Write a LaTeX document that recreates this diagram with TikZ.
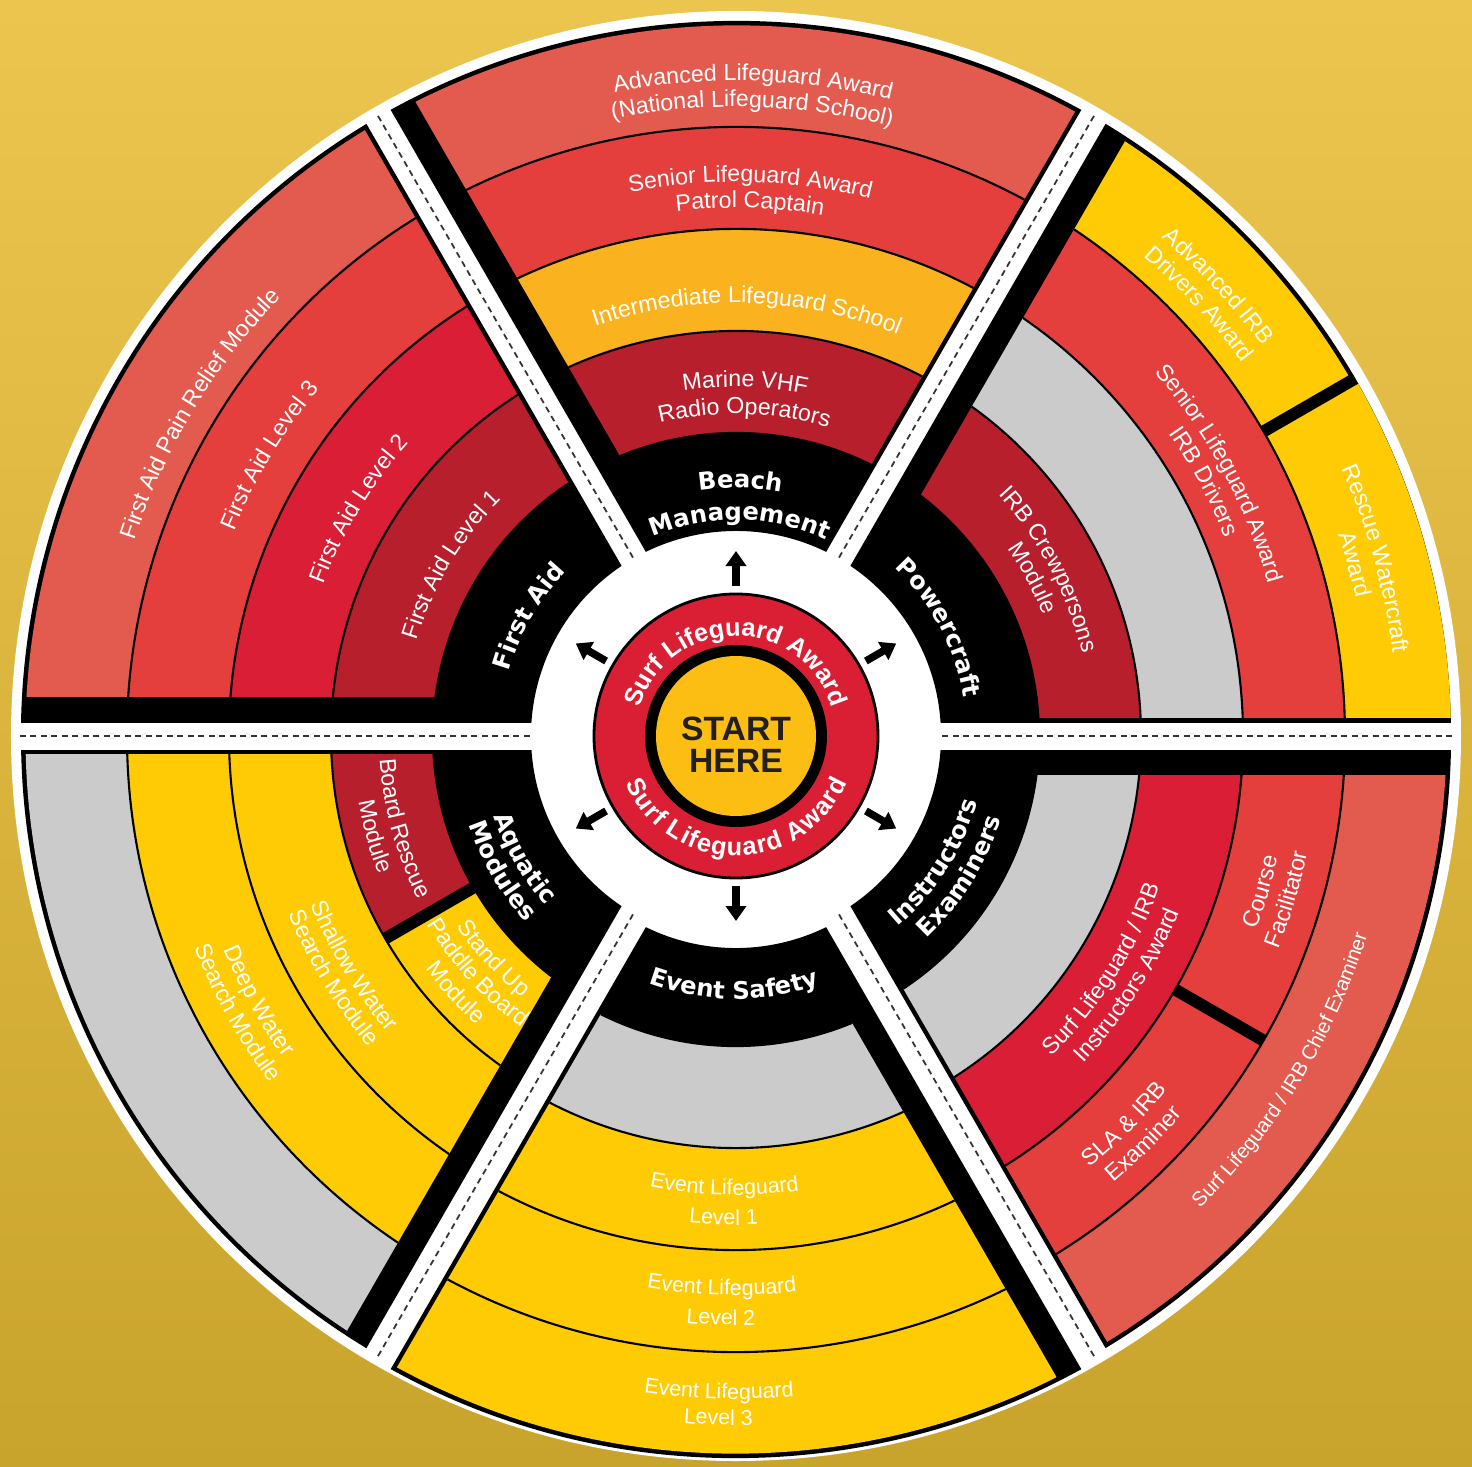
\documentclass[tikz,border=0pt]{standalone}
\usepackage{fontspec}
\setmainfont{Liberation Sans}
\newfontfamily\heavyfont{DejaVu Sans}
\usetikzlibrary{arrows.meta,decorations.text}

\definecolor{bgtop}{HTML}{ECC54F}
\definecolor{bgbot}{HTML}{C9A42C}
\definecolor{redA}{HTML}{B81F2D}
\definecolor{redB}{HTML}{D91E36}
\definecolor{redC}{HTML}{E43E3D}
\definecolor{redD}{HTML}{E35B4F}
\definecolor{orangeR}{HTML}{FBB21F}
\definecolor{yellowR}{HTML}{FFCB05}
\definecolor{greyR}{HTML}{CBCBCB}
\definecolor{hubred}{HTML}{DA1F35}
\definecolor{hubyellow}{HTML}{FDBE14}
\definecolor{darktext}{HTML}{231F20}

\newcommand{\ringfont}{\fontsize{6.6}{7}\selectfont}
\newcommand{\smallring}{\fontsize{6.1}{7}\selectfont}
\newcommand{\tinyring}{\fontsize{5.8}{7}\selectfont}
\newcommand{\catfont}{\heavyfont\bfseries\fontsize{6.9}{8}\selectfont}
\newcommand{\hubfont}{\bfseries\fontsize{7.2}{8}\selectfont}
\newcommand{\hubwide}{\bfseries\fontsize{7.2}{8}\selectfont\kern0.35pt}

\def\gapw{0.14}
\def\barw{0.255}
\def\rimw{0.045}

% texte sur un arc, sens horaire (moitie haute)
\newcommand{\cwlabel}[4][\ringfont]{%
  \path[decorate,decoration={text along path,text align=center,text color=white,text={|#1|#4}}]
    (#3+80:#2) arc[start angle=#3+80,end angle=#3-80,radius=#2];}
% texte sur un arc, sens antihoraire (moitie basse)
\newcommand{\ccwlabel}[4][\ringfont]{%
  \path[decorate,decoration={text along path,text align=center,text color=white,text={|#1|#4}}]
    (#3-80:#2) arc[start angle=#3-80,end angle=#3+80,radius=#2];}

\begin{document}
\begin{tikzpicture}[
    ringline/.style = {line width=0.6pt},
    sepline/.style = {dash pattern=on 0.6mm off 0.45mm, line width=0.5pt, black!80},
    divider/.style = {line width=1.2mm},
    hubarrow/.style = {line width=0.75mm, -{Triangle[width=2mm,length=1.5mm]}},
    starttext/.style = {align=center, text=darktext, inner sep=0pt,
                        font=\bfseries\fontsize{9.6}{9.1}\selectfont}
  ]
  \useasboundingbox (-7.36,-7.30) rectangle (7.36,7.36);
  \shade[top color=bgtop, bottom color=bgbot] (-7.36,-7.30) rectangle (7.36,7.36);
  \fill[white] (0,0) circle (7.25);

  % Secteurs : angle / decalage / anneaux 1..4 / anneau coupe / couleur 0-30
  \foreach \ang/\sh/\ca/\cb/\cc/\cd/\ri/\ro/\csp in {
      0/0/redA/greyR/redC/yellowR/6.09/7.15/yellowR,
      60/0/redA/orangeR/redC/redD/0/0/redD,
      120/0/redA/redB/redC/redD/0/0/redD,
      180/0/yellowR/yellowR/yellowR/greyR/3.03/4.05/redA,
      240/0.07/greyR/yellowR/yellowR/yellowR/0/0/greyR,
      300/0/greyR/redB/redC/redD/5.07/6.09/redC}{
    \begin{scope}[shift={(\ang+30:\sh)}, rotate=\ang]
      \clip (-8,\gapw) -- (8,\gapw) -- (8,8) -- (-8,8) -- cycle;
      \clip[rotate=60] (-8,-8) -- (8,-8) -- (8,-\gapw) -- (-8,-\gapw) -- cycle;
      \fill[black, even odd rule] (0,0) circle (7.15) (0,0) circle (2.05);
      \clip (-8,\gapw+\rimw) -- (8,\gapw+\rimw) -- (8,8) -- (-8,8) -- cycle;
      \clip[rotate=60] (-8,-8) -- (8,-8) -- (8,-\gapw-\barw) -- (-8,-\gapw-\barw) -- cycle;
      \fill[fill=\ca, even odd rule] (0,0) circle (4.05) (0,0) circle (3.03);
      \fill[fill=\cb, even odd rule] (0,0) circle (5.07) (0,0) circle (4.05);
      \fill[fill=\cc, even odd rule] (0,0) circle (6.09) (0,0) circle (5.07);
      \fill[fill=\cd, even odd rule] (0,0) circle (7.105) (0,0) circle (6.09);
      \ifdim\ro pt>0pt
        \fill[fill=\csp] (-5:\ri) arc[start angle=-5,end angle=30,radius=\ri]
          -- (30:\ro) arc[start angle=30,end angle=-5,radius=\ro] -- cycle;
      \fi
      \foreach \rad in {3.03,4.05,5.07,6.09}
        \draw[ringline] (0,0) circle (\rad);
      \ifdim\ro pt>0pt
        \draw[divider] (30:\ri) -- (30:\ro);
      \fi
    \end{scope}
  }

  % Separations pointillees
  \foreach \ang in {0,60,...,300}
    \draw[sepline] (\ang:2.06) -- (\ang:7.2);

  % Centre
  \filldraw[fill=hubred, line width=0.8pt] (0,0) circle (1.42);
  \fill[black] (0,0) circle (0.91);
  \fill[hubyellow] (0,0) circle (0.80);
  \node[starttext] (start) at (0,-0.09) {START\\HERE};
  \cwlabel[\hubfont]{1.00}{90}{Surf Lifeguard Award}
  \ccwlabel[\hubwide]{1.20}{270}{Surf Lifeguard Award}
  \foreach \ang in {30,90,...,330}{
    \coordinate (tail\ang) at (\ang:1.50);
    \coordinate (tip\ang) at (\ang:1.85);
    \draw[hubarrow] (tail\ang) -- (tip\ang);
  }

  % Beach Management
  \cwlabel[\catfont]{2.48}{89}{Beach}
  \cwlabel[\catfont]{2.16}{89}{Management}
  \cwlabel{3.49}{88.5}{Marine VHF}
  \cwlabel{3.22}{88.5}{Radio Operators}
  \cwlabel{4.33}{88.5}{Intermediate Lifeguard School}
  \cwlabel{5.54}{88.5}{Senior Lifeguard Award}
  \cwlabel{5.28}{88.5}{Patrol Captain}
  \cwlabel{6.55}{88.5}{Advanced Lifeguard Award}
  \cwlabel{6.29}{88.5}{(National Lifeguard School)}

  % First Aid
  \cwlabel[\catfont]{2.36}{150}{First Aid}
  \cwlabel{3.33}{149}{First Aid Level 1}
  \cwlabel{4.39}{149}{First Aid Level 2}
  \cwlabel{5.42}{149}{First Aid Level 3}
  \cwlabel{6.32}{149}{First Aid Pain Relief Module}

  % Powercraft
  \cwlabel[\catfont]{2.31}{28}{Powercraft}
  \cwlabel{3.56}{28}{IRB Crewpersons}
  \cwlabel{3.30}{28}{Module}
  \cwlabel{5.54}{28.5}{Senior Lifeguard Award}
  \cwlabel{5.28}{28.5}{IRB Drivers}
  \cwlabel{6.55}{43}{Advanced IRB}
  \cwlabel{6.29}{43}{Drivers Award}
  \cwlabel{6.62}{15.5}{Rescue Watercraft}
  \cwlabel{6.35}{15.5}{Award}

  % Instructors Examiners
  \ccwlabel[\catfont]{2.50}{327.5}{Instructors}
  \ccwlabel[\catfont]{2.78}{328}{Examiners}
  \ccwlabel{4.50}{327.5}{Surf Lifeguard / IRB}
  \ccwlabel{4.77}{327.5}{Instructors Award}
  \ccwlabel{5.55}{343.5}{Course}
  \ccwlabel{5.83}{343.5}{Facilitator}
  \ccwlabel{5.58}{315}{SLA {\&} IRB}
  \ccwlabel{5.85}{315}{Examiner}
  \ccwlabel[\tinyring]{6.62}{328.5}{Surf Lifeguard / IRB Chief Examiner}

  % Event Safety
  \begin{scope}[shift={(270:0.07)}]
    \ccwlabel[\catfont]{2.56}{269.5}{Event Safety}
    \ccwlabel[\smallring]{4.52}{268.5}{Event Lifeguard}
    \ccwlabel[\smallring]{4.82}{268.5}{Level 1}
    \ccwlabel[\smallring]{5.52}{268.5}{Event Lifeguard}
    \ccwlabel[\smallring]{5.82}{268.5}{Level 2}
    \ccwlabel[\smallring]{6.56}{268.5}{Event Lifeguard}
    \ccwlabel[\smallring]{6.82}{268.5}{Level 3}
  \end{scope}

  % Aquatic Modules
  \ccwlabel[\catfont]{2.55}{210}{Aquatic}
  \ccwlabel[\catfont]{2.81}{210}{Modules}
  \ccwlabel{3.57}{195.5}{Board Rescue}
  \ccwlabel{3.83}{195.5}{Module}
  \ccwlabel{3.38}{222.5}{Stand Up}
  \ccwlabel{3.62}{222.5}{Paddle Board}
  \ccwlabel{3.88}{222.5}{Module}
  \ccwlabel{4.57}{211}{Shallow Water}
  \ccwlabel{4.81}{211}{Search Module}
  \ccwlabel{5.55}{209}{Deep Water}
  \ccwlabel{5.81}{209}{Search Module}
\end{tikzpicture}
\end{document}
